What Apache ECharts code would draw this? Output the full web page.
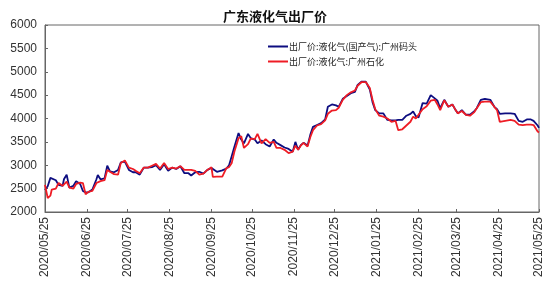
<!DOCTYPE html>
<html><head><meta charset="utf-8">
<script src="https://cdn.jsdelivr.net/npm/echarts@6/dist/echarts.min.js"></script>
<style>html,body{margin:0;padding:0;background:#fff}#c{width:550px;height:287px}</style>
</head><body><div id="c"></div>
<script>
var seriesNames = ['出厂价:液化气(国产气):广州码头', '出厂价:液化气:广州石化'];
var sampleDates = ['2020/05/25','2020/05/27','2020/05/29','2020/05/30','2020/06/02','2020/06/04','2020/06/07','2020/06/08','2020/06/10','2020/06/12','2020/06/15','2020/06/17','2020/06/20','2020/06/22','2020/06/24','2020/06/26','2020/06/29','2020/07/02','2020/07/03','2020/07/05','2020/07/08','2020/07/10','2020/07/12','2020/07/15','2020/07/18','2020/07/20','2020/07/23','2020/07/26','2020/07/29','2020/07/31','2020/08/03','2020/08/06','2020/08/09','2020/08/12','2020/08/15','2020/08/18','2020/08/21','2020/08/24','2020/08/27','2020/08/30','2020/09/02','2020/09/05','2020/09/08','2020/09/10','2020/09/13','2020/09/16','2020/09/19','2020/09/22','2020/09/25','2020/09/26','2020/09/29','2020/10/03','2020/10/06','2020/10/08','2020/10/10','2020/10/12','2020/10/15','2020/10/17','2020/10/19','2020/10/22','2020/10/24','2020/10/27','2020/10/29','2020/11/01','2020/11/04','2020/11/07','2020/11/10','2020/11/12','2020/11/15','2020/11/18','2020/11/21','2020/11/24','2020/11/26','2020/11/28','2020/11/30','2020/12/02','2020/12/05','2020/12/07','2020/12/09','2020/12/12','2020/12/15','2020/12/18','2020/12/20','2020/12/23','2020/12/26','2020/12/28','2020/12/31','2021/01/03','2021/01/06','2021/01/09','2021/01/11','2021/01/14','2021/01/17','2021/01/20','2021/01/22','2021/01/24','2021/01/27','2021/01/30','2021/02/02','2021/02/05','2021/02/08','2021/02/10','2021/02/13','2021/02/16','2021/02/19','2021/02/21','2021/02/23','2021/02/25','2021/02/28','2021/03/03','2021/03/06','2021/03/09','2021/03/11','2021/03/13','2021/03/16','2021/03/19','2021/03/22','2021/03/24','2021/03/26','2021/03/29','2021/04/01','2021/04/04','2021/04/07','2021/04/09','2021/04/12','2021/04/15','2021/04/19','2021/04/22','2021/04/24','2021/04/26','2021/04/30','2021/05/04','2021/05/07','2021/05/10','2021/05/13','2021/05/16','2021/05/19','2021/05/21','2021/05/24','2021/05/25'];
var wharfValues = [2470,2550,2730,2720,2680,2580,2560,2700,2800,2520,2560,2660,2600,2450,2420,2420,2480,2700,2790,2700,2720,2990,2870,2850,2900,3060,3080,2900,2850,2850,2800,2950,2950,2960,3000,2900,3020,2880,2950,2920,2980,2830,2830,2780,2850,2860,2820,2900,2940,2900,2860,2890,2930,3000,3200,3400,3690,3550,3470,3670,3580,3550,3470,3530,3450,3400,3550,3480,3430,3380,3350,3290,3500,3330,3430,3480,3420,3650,3820,3860,3900,3980,4250,4300,4280,4250,4420,4480,4540,4570,4720,4790,4790,4620,4350,4180,4110,4110,3970,3960,3960,3970,3970,4060,4100,4150,4050,4020,4330,4320,4500,4430,4380,4220,4400,4250,4300,4200,4110,4180,4080,4080,4150,4220,4400,4420,4400,4250,4200,4100,4110,4110,4100,3950,3930,3980,3980,3950,3850,3800];
var petroValues = [2580,2300,2350,2480,2500,2620,2560,2560,2650,2520,2500,2600,2630,2620,2380,2430,2450,2620,2660,2660,2680,2900,2860,2810,2800,3050,3100,2950,2920,2880,2830,2950,2950,2990,3030,2930,3050,2920,2950,2930,2980,2900,2900,2900,2880,2800,2820,2900,2960,2750,2755,2755,2940,2960,3050,3300,3580,3620,3370,3450,3570,3560,3670,3470,3560,3480,3500,3370,3370,3330,3260,3290,3420,3330,3420,3480,3400,3600,3750,3850,3880,3960,4100,4170,4180,4230,4400,4500,4560,4600,4700,4780,4780,4650,4400,4200,4060,4040,4000,3930,3950,3750,3770,3850,3930,4040,4000,4080,4200,4260,4380,4400,4300,4180,4390,4250,4300,4200,4110,4160,4080,4060,4130,4220,4350,4360,4360,4250,4180,3930,3950,3970,3950,3870,3860,3870,3870,3860,3720,3700];
var yTicks = [2000, 2500, 3000, 3500, 4000, 4500, 5000, 5500, 6000];

// full daily category list for the x axis
var categories = [];
(function(){
  var d = new Date(2020, 4, 25), end = new Date(2021, 4, 25);
  function p(n){return (n<10?'0':'')+n;}
  while (d <= end) {
    categories.push(d.getFullYear()+'/'+p(d.getMonth()+1)+'/'+p(d.getDate()));
    d.setDate(d.getDate()+1);
  }
})();
function on25(i, v){ return v.slice(-2) === '25'; }

var chart = echarts.init(document.getElementById('c'), null, {renderer:'canvas'});
chart.setOption({
  animation: false,
  backgroundColor: '#fff',
  title: {
    text: '广东液化气出厂价', left: 'center', top: 5,
    textStyle: {fontFamily: 'Noto Sans CJK SC', fontSize: 13, fontWeight: 'bold', color: '#111'}
  },
  legend: {
    orient: 'vertical', left: 263, top: 37, itemGap: 6,
    icon: 'rect', itemWidth: 20, itemHeight: 2,
    textStyle: {fontFamily: 'Noto Sans CJK SC', fontSize: 9, color: '#222', padding: [0,0,0,-4]},
    data: seriesNames
  },
  grid: {left: 45, right: 11, top: 25, bottom: 75, show: true, borderColor: '#666', borderWidth: 1},
  xAxis: {
    type: 'category', data: categories, boundaryGap: false,
    axisLine: {lineStyle: {color: '#666', width: 1}},
    axisTick: {show: true, inside: true, length: 3, interval: on25, lineStyle: {color: '#666'}},
    axisLabel: {interval: on25, rotate: 90, margin: 5, fontFamily: 'Liberation Sans', fontSize: 12, color: '#333'},
    splitLine: {show: false}
  },
  yAxis: {
    type: 'value', min: yTicks[0], max: yTicks[yTicks.length-1], interval: 500,
    axisLine: {show: true, lineStyle: {color: '#666', width: 1}},
    axisTick: {show: true, inside: true, length: 3, lineStyle: {color: '#666'}},
    axisLabel: {margin: 8, fontFamily: 'Liberation Sans', fontSize: 12, color: '#333',
      formatter: function(v){ return String(v); }},
    splitLine: {show: false}
  },
  series: [
    {name: seriesNames[0], type: 'line', showSymbol: false, symbol: 'none',
     lineStyle: {color: '#0d0d80', width: 1.8}, itemStyle: {color: '#0d0d80'},
     data: sampleDates.map(function(d,i){return [d, wharfValues[i]];})},
    {name: seriesNames[1], type: 'line', showSymbol: false, symbol: 'none',
     lineStyle: {color: '#ee1c25', width: 1.8}, itemStyle: {color: '#ee1c25'},
     data: sampleDates.map(function(d,i){return [d, petroValues[i]];})}
  ]
});
</script></body></html>
